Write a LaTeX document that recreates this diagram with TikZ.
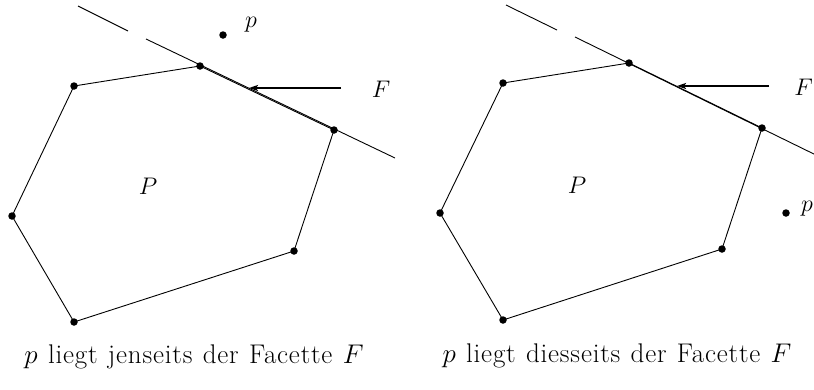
\RequirePackage{fix-cm}
\documentclass[tikz,border=0pt]{standalone}
\usepackage{fontspec}
\usetikzlibrary{arrows.meta}
\newfontfamily\capfont[LetterSpace=3,WordSpace=1.15]{Latin Modern Roman}
\begin{document}
\begin{tikzpicture}[x=1pt,y=-1pt,
  vdot/.style={circle,fill=black,inner sep=0pt,minimum size=7.5pt},
  edge/.style={line width=0.9pt},
  facet/.style={line width=0.9pt},
  pointer/.style={line width=1.8pt,-{Stealth[length=9pt,width=6pt,inset=2pt]}},
  lbl/.style={font=\fontsize{24}{28}\selectfont,inner sep=0pt},
  captext/.style={font=\fontsize{27}{32}\selectfont\capfont,inner sep=0pt}]
\clip (0,0) rectangle (814,389);
\useasboundingbox (0,0) rectangle (814,389);
% ---------- left ----------
\node[vdot] (a1) at (200,66) {};
\node[vdot] (a2) at (334,130) {};
\node[vdot] (a3) at (294,251) {};
\node[vdot] (a4) at (74,322) {};
\node[vdot] (a5) at (12,216) {};
\node[vdot] (a6) at (74,86) {};
\draw[edge] (a1.center) -- (a2.center) -- (a3.center) -- (a4.center) -- (a5.center) -- (a6.center) -- (a1.center);
\coordinate (la) at (78,6);
\coordinate (lb) at (128,31);
\coordinate (lc) at (146,39);
\coordinate (ld) at (395,158);
\draw[facet] (la) -- (lb);
\draw[facet] (lc) -- (ld);
\coordinate (arrA) at (341,88);
\coordinate (arrAt) at (249,88);
\draw[pointer] (arrA) -- (arrAt);
\node[lbl] (fA) at (381,89) {$F$};
\node[vdot] (pA) at (223,35) {};
\node[lbl] (pAl) at (251,25) {$p$};
\node[lbl] (PA) at (148,186) {$P$};
\node[captext] (capA) at (194,357) {$p$ liegt jenseits der Facette $F$};
% ---------- right ----------
\node[vdot] (b1) at (629,63) {};
\node[vdot] (b2) at (762,128) {};
\node[vdot] (b3) at (722,249) {};
\node[vdot] (b4) at (503,320) {};
\node[vdot] (b5) at (440,213) {};
\node[vdot] (b6) at (503,83) {};
\draw[edge] (b1.center) -- (b2.center) -- (b3.center) -- (b4.center) -- (b5.center) -- (b6.center) -- (b1.center);
\coordinate (ra) at (506,5);
\coordinate (rb) at (557,30);
\coordinate (rc) at (575,37);
\coordinate (rd) at (820,157);
\draw[facet] (ra) -- (rb);
\draw[facet] (rc) -- (rd);
\coordinate (arrB) at (769,86);
\coordinate (arrBt) at (677,86);
\draw[pointer] (arrB) -- (arrBt);
\node[lbl,anchor=east] (fB) at (813,87) {$F$};
\node[vdot] (pB) at (786,213) {};
\node[lbl,anchor=east] (pBl) at (813,209) {$p$};
\node[lbl] (PB) at (577,185) {$P$};
\node[captext] (capB) at (617,356) {$p$ liegt diesseits der Facette $F$};
\end{tikzpicture}
\end{document}
